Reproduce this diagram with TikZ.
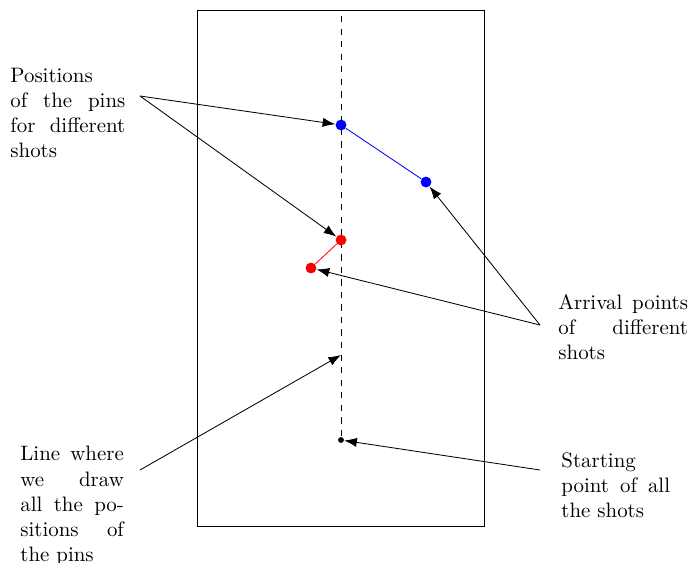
\documentclass[tikz,border=0pt]{standalone}
\usetikzlibrary{arrows.meta}

\tikzset{
  pin/.style={circle, fill=#1, inner sep=0pt, minimum size=5.2pt},
  note/.style={anchor=north west, inner sep=0pt, align=justify, text width=#1},
  pointer/.style={-{Latex[length=6pt,width=4.4pt]}}
}

\begin{document}
\begin{tikzpicture}[x=0.4785pt,y=-0.4785pt]
\useasboundingbox (0,0) rectangle (688,563);

% table and the line of the pins
\draw (197,10) rectangle (484,526);
\node[circle, fill=black, inner sep=0pt, minimum size=2.8pt] (start) at (341,440) {};
\coordinate (top) at (341,16);
\coordinate (mid) at (341,355);
\draw[dashed] (top) -- (start);

% pins and arrival points
\node[pin=blue] (bluepin) at (341,125) {};
\node[pin=blue] (bluearr) at (426,182) {};
\node[pin=red] (redpin) at (341,240) {};
\node[pin=red] (redarr) at (311,268) {};
\draw[blue] (bluepin) -- (bluearr);
\draw[red] (redpin) -- (redarr);

% texts
\node[note=55pt] (pos) at (10,68) {Positions of the pins for different shots};
\node[note=62pt] (arr) at (558,294) {Arrival points of different shots};
\node[note=49.5pt] (line) at (20,446) {Line where we draw all the po-\linebreak sitions of the pins};
\node[note=52pt] (stp) at (561,452) {Starting point of all the shots};

\coordinate (posTail) at (140,96);
\coordinate (arrTail) at (540,325);
\coordinate (lineTail) at (140,470);
\coordinate (stpTail) at (540,470);

\draw[pointer] (posTail) -- (bluepin);
\draw[pointer] (posTail) -- (redpin);
\draw[pointer] (arrTail) -- (bluearr);
\draw[pointer] (arrTail) -- (redarr);
\draw[pointer] (lineTail) -- (mid);
\draw[pointer] (stpTail) -- (start);
\end{tikzpicture}
\end{document}
